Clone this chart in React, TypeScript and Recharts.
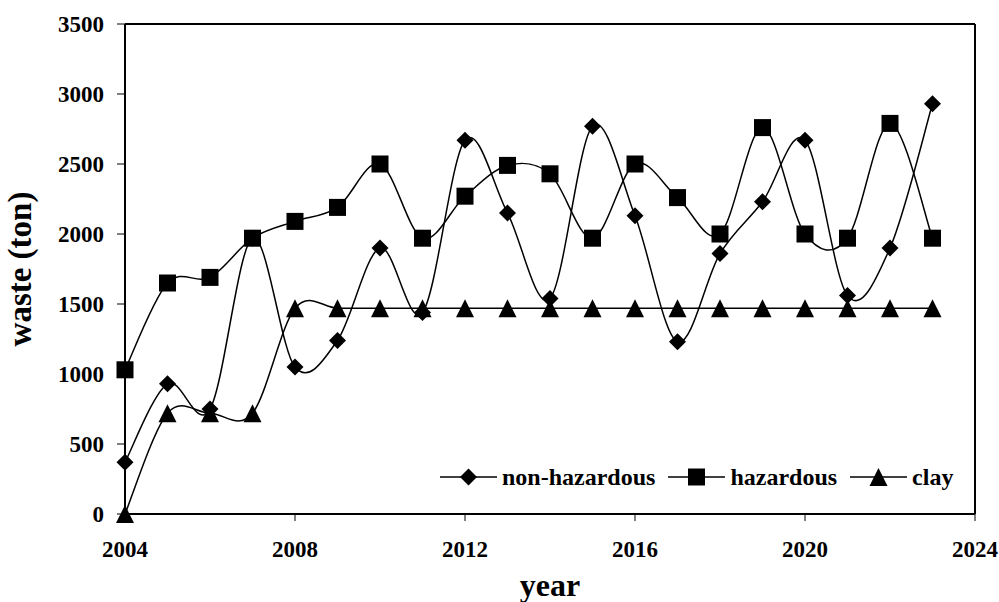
import React from 'react';
import { LineChart, Line, XAxis, YAxis, ReferenceLine, Legend } from 'recharts';

const years = [2004, 2005, 2006, 2007, 2008, 2009, 2010, 2011, 2012, 2013, 2014, 2015, 2016, 2017, 2018, 2019, 2020, 2021, 2022, 2023];
const nonHazardous = [370, 930, 750, 1970, 1050, 1240, 1900, 1440, 2670, 2150, 1540, 2770, 2130, 1230, 1860, 2230, 2670, 1560, 1900, 2930];
const hazardous = [1030, 1650, 1690, 1970, 2090, 2190, 2500, 1970, 2270, 2490, 2430, 1970, 2500, 2260, 2000, 2760, 2000, 1970, 2790, 1970];
const clay = [0, 720, 720, 720, 1470, 1470, 1470, 1470, 1470, 1470, 1470, 1470, 1470, 1470, 1470, 1470, 1470, 1470, 1470, 1470];
const xTicks = [2004, 2008, 2012, 2016, 2020, 2024];
const yTicks = [0, 500, 1000, 1500, 2000, 2500, 3000, 3500];

const data = years.map((year, i) => ({
  year,
  nonHazardous: nonHazardous[i],
  hazardous: hazardous[i],
  clay: clay[i],
}));

const FONT = '"Liberation Serif", "Times New Roman", serif';

// excel-style smoothed line (catmull-rom through the points)
const excelSmooth = (context: any) => {
  let pts: number[][] = [];
  return {
    areaStart() {},
    areaEnd() {},
    lineStart() {
      pts = [];
    },
    point(x: number, y: number) {
      pts.push([+x, +y]);
    },
    lineEnd() {
      const n = pts.length;
      if (!n) return;
      context.moveTo(pts[0][0], pts[0][1]);
      for (let i = 0; i < n - 1; i++) {
        const p0 = pts[i - 1] || pts[i];
        const p1 = pts[i];
        const p2 = pts[i + 1];
        const p3 = pts[i + 2] || p2;
        context.bezierCurveTo(
          p1[0] + (p2[0] - p0[0]) / 6,
          p1[1] + (p2[1] - p0[1]) / 6,
          p2[0] - (p3[0] - p1[0]) / 6,
          p2[1] - (p3[1] - p1[1]) / 6,
          p2[0],
          p2[1]
        );
      }
    },
  };
};

const Diamond = ({ cx, cy }: { cx: number; cy: number }) => (
  <path d={`M${cx},${cy - 8.5}L${cx + 8.5},${cy}L${cx},${cy + 8.5}L${cx - 8.5},${cy}Z`} fill="#000" />
);
const Square = ({ cx, cy }: { cx: number; cy: number }) => (
  <rect x={cx - 8.5} y={cy - 8.5} width={17} height={17} fill="#000" />
);
const Triangle = ({ cx, cy }: { cx: number; cy: number }) => (
  <path d={`M${cx},${cy - 9}L${cx + 9},${cy + 9}L${cx - 9},${cy + 9}Z`} fill="#000" />
);

const legendItems = [
  { label: 'non-hazardous', Marker: Diamond },
  { label: 'hazardous', Marker: Square },
  { label: 'clay', Marker: Triangle },
];

const renderLegend = () => (
  <div style={{ display: 'flex', alignItems: 'center', fontFamily: FONT, fontWeight: 'bold', fontSize: 24, color: '#000' }}>
    {legendItems.map(({ label, Marker }) => (
      <div key={label} style={{ display: 'flex', alignItems: 'center', marginRight: 13 }}>
        <svg width={57} height={24}>
          <line x1={0} y1={12} x2={57} y2={12} stroke="#000" strokeWidth={1.5} />
          <Marker cx={28.5} cy={12} />
        </svg>
        <span style={{ marginLeft: 5, lineHeight: '24px' }}>{label}</span>
      </div>
    ))}
  </div>
);

const tickStyle = { fontFamily: FONT, fontWeight: 'bold', fontSize: 23, fill: '#000' };

const YTitle = (props: any) => {
  const { viewBox } = props;
  const x = viewBox.x + 31;
  const y = viewBox.y + viewBox.height / 2;
  return (
    <text
      x={x}
      y={y}
      transform={`rotate(-90, ${x}, ${y})`}
      textAnchor="middle"
      style={{ fontFamily: FONT, fontWeight: 'bold', fontSize: 33, fill: '#000' }}
    >
      waste (ton)
    </text>
  );
};

export default function App() {
  return (
    <div style={{ position: 'absolute', left: 0, top: 0, background: '#fff' }}>
      <LineChart width={999} height={602} data={data} margin={{ top: 24, right: 24, left: 0, bottom: 0 }}>
        <XAxis
          dataKey="year"
          type="number"
          domain={[2004, 2024]}
          ticks={xTicks}
          interval={0}
          height={88}
          tickSize={7}
          tickMargin={20}
          tick={tickStyle}
          axisLine={{ stroke: '#000', strokeWidth: 2 }}
          tickLine={{ stroke: '#000', strokeWidth: 1 }}
          label={{
            value: 'year',
            position: 'insideBottom',
            offset: 6,
            style: { fontFamily: FONT, fontWeight: 'bold', fontSize: 32, fill: '#000' },
          }}
        />
        <YAxis
          type="number"
          domain={[0, 3500]}
          ticks={yTicks}
          interval={0}
          width={125}
          tickSize={8}
          tickMargin={13}
          tick={tickStyle}
          axisLine={{ stroke: '#000', strokeWidth: 2 }}
          tickLine={{ stroke: '#000', strokeWidth: 1 }}
          label={{ content: YTitle }}
        />
        <ReferenceLine y={3500} stroke="#000" strokeWidth={2} />
        <ReferenceLine x={2024} stroke="#000" strokeWidth={2} />
        <Line
          dataKey="nonHazardous"
          name="non-hazardous"
          type={excelSmooth as any}
          stroke="#000"
          strokeWidth={1.5}
          isAnimationActive={false}
          dot={(p: any) => <Diamond key={`nh-${p.index}`} cx={p.cx} cy={p.cy} />}
          activeDot={false}
        />
        <Line
          dataKey="hazardous"
          name="hazardous"
          type={excelSmooth as any}
          stroke="#000"
          strokeWidth={1.5}
          isAnimationActive={false}
          dot={(p: any) => <Square key={`hz-${p.index}`} cx={p.cx} cy={p.cy} />}
          activeDot={false}
        />
        <Line
          dataKey="clay"
          name="clay"
          type={excelSmooth as any}
          stroke="#000"
          strokeWidth={1.5}
          isAnimationActive={false}
          dot={(p: any) => <Triangle key={`cl-${p.index}`} cx={p.cx} cy={p.cy} />}
          activeDot={false}
        />
        <Legend
          layout="horizontal"
          verticalAlign="middle"
          align="center"
          content={renderLegend}
          wrapperStyle={{ left: 440, top: 465, width: 540 }}
        />
      </LineChart>
    </div>
  );
}
